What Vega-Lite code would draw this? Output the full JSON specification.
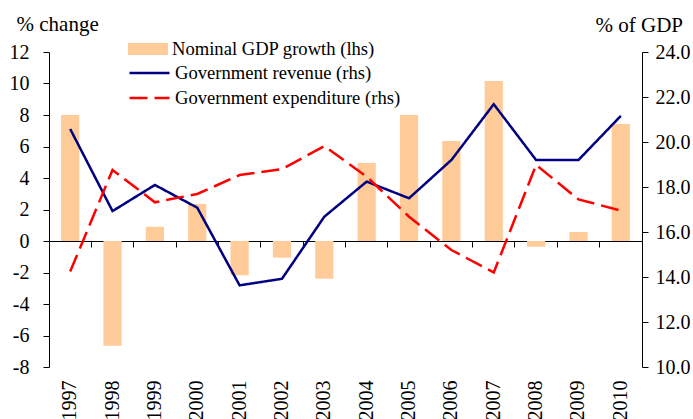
{
  "$schema": "https://vega.github.io/schema/vega-lite/v6.json",
  "width": 593,
  "height": 315,
  "autosize": {"type": "none"},
  "padding": {"left": 49, "top": 52, "right": 51, "bottom": 52},
  "config": {
    "font": "Liberation Serif",
    "view": {"stroke": null},
    "axis": {"grid": false, "domainColor": "#000000", "tickColor": "#000000", "labelColor": "#000000", "titleColor": "#000000", "labelFontSize": 20, "titleFontSize": 21, "titleFontWeight": "normal", "tickSize": 6, "domainWidth": 1, "tickWidth": 1},
    "legend": {"labelFontSize": 18.6, "labelColor": "#000000", "padding": 0, "labelLimit": 400}
  },
  "datasets": {
    "bars": [
      {"year": "1997", "series": "Nominal GDP growth (lhs)", "value": 8.0},
      {"year": "1998", "series": "Nominal GDP growth (lhs)", "value": -6.65},
      {"year": "1999", "series": "Nominal GDP growth (lhs)", "value": 0.9},
      {"year": "2000", "series": "Nominal GDP growth (lhs)", "value": 2.35},
      {"year": "2001", "series": "Nominal GDP growth (lhs)", "value": -2.18},
      {"year": "2002", "series": "Nominal GDP growth (lhs)", "value": -1.06},
      {"year": "2003", "series": "Nominal GDP growth (lhs)", "value": -2.39},
      {"year": "2004", "series": "Nominal GDP growth (lhs)", "value": 4.95},
      {"year": "2005", "series": "Nominal GDP growth (lhs)", "value": 8.0},
      {"year": "2006", "series": "Nominal GDP growth (lhs)", "value": 6.35},
      {"year": "2007", "series": "Nominal GDP growth (lhs)", "value": 10.16},
      {"year": "2008", "series": "Nominal GDP growth (lhs)", "value": -0.36},
      {"year": "2009", "series": "Nominal GDP growth (lhs)", "value": 0.57},
      {"year": "2010", "series": "Nominal GDP growth (lhs)", "value": 7.43}
    ],
    "lines": [
      {"year": "1997", "series": "Government revenue (rhs)", "value": 20.58},
      {"year": "1998", "series": "Government revenue (rhs)", "value": 16.93},
      {"year": "1999", "series": "Government revenue (rhs)", "value": 18.09},
      {"year": "2000", "series": "Government revenue (rhs)", "value": 17.08},
      {"year": "2001", "series": "Government revenue (rhs)", "value": 13.63},
      {"year": "2002", "series": "Government revenue (rhs)", "value": 13.92},
      {"year": "2003", "series": "Government revenue (rhs)", "value": 16.68},
      {"year": "2004", "series": "Government revenue (rhs)", "value": 18.24},
      {"year": "2005", "series": "Government revenue (rhs)", "value": 17.5},
      {"year": "2006", "series": "Government revenue (rhs)", "value": 19.2},
      {"year": "2007", "series": "Government revenue (rhs)", "value": 21.68},
      {"year": "2008", "series": "Government revenue (rhs)", "value": 19.2},
      {"year": "2009", "series": "Government revenue (rhs)", "value": 19.2},
      {"year": "2010", "series": "Government revenue (rhs)", "value": 21.16},
      {"year": "1997", "series": "Government expenditure (rhs)", "value": 14.24},
      {"year": "1998", "series": "Government expenditure (rhs)", "value": 18.76},
      {"year": "1999", "series": "Government expenditure (rhs)", "value": 17.32},
      {"year": "2000", "series": "Government expenditure (rhs)", "value": 17.69},
      {"year": "2001", "series": "Government expenditure (rhs)", "value": 18.53},
      {"year": "2002", "series": "Government expenditure (rhs)", "value": 18.79},
      {"year": "2003", "series": "Government expenditure (rhs)", "value": 19.82},
      {"year": "2004", "series": "Government expenditure (rhs)", "value": 18.46},
      {"year": "2005", "series": "Government expenditure (rhs)", "value": 16.68},
      {"year": "2006", "series": "Government expenditure (rhs)", "value": 15.2},
      {"year": "2007", "series": "Government expenditure (rhs)", "value": 14.2},
      {"year": "2008", "series": "Government expenditure (rhs)", "value": 18.98},
      {"year": "2009", "series": "Government expenditure (rhs)", "value": 17.45},
      {"year": "2010", "series": "Government expenditure (rhs)", "value": 16.95}
    ]
  },
  "layer": [
    {
      "data": {"name": "bars"},
      "mark": {"type": "bar", "width": {"band": 0.43}},
      "encoding": {
        "x": {"field": "year", "type": "ordinal", "scale": {"type": "band", "paddingInner": 0, "paddingOuter": 0},
              "axis": {"orient": "top", "title": null, "labels": false, "offset": -189, "bandPosition": 0, "tickSize": -6}},
        "y": {"field": "value", "type": "quantitative", "scale": {"domain": [-8, 12], "nice": false, "zero": false},
              "axis": {"orient": "left", "values": [-8, -6, -4, -2, 0, 2, 4, 6, 8, 10, 12], "labelExpr": "'' + datum.value", "labelPadding": 14,
                       "title": "% change", "titleAngle": 0, "titleAlign": "left", "titleBaseline": "alphabetic", "titleX": -33, "titleY": -22}},
        "fill": {"field": "series", "type": "nominal", "scale": {"range": ["#FFCC99"]},
                 "legend": {"title": null, "orient": "none", "legendX": 79, "legendY": -15.5, "symbolType": "M-1,-0.3H1V0.3H-1Z", "symbolSize": 1600, "symbolStrokeWidth": 0, "labelOffset": 4, "clipHeight": 25}}
      }
    },
    {
      "data": {"name": "lines"},
      "mark": {"type": "line", "strokeWidth": 2.5},
      "encoding": {
        "x": {"field": "year", "type": "ordinal", "scale": {"type": "band", "paddingInner": 0, "paddingOuter": 0},
              "axis": {"orient": "bottom", "title": null, "domain": false, "ticks": false, "labelAngle": -90, "labelPadding": 13}},
        "y": {"field": "value", "type": "quantitative", "scale": {"domain": [10, 24], "nice": false, "zero": false},
              "axis": {"orient": "right", "values": [10, 12, 14, 16, 18, 20, 22, 24], "format": ".1f", "labelPadding": 7,
                       "title": "% of GDP", "titleAngle": 0, "titleAlign": "left", "titleBaseline": "alphabetic", "titleX": -47, "titleY": -21}},
        "stroke": {"field": "series", "type": "nominal",
                   "scale": {"domain": ["Government revenue (rhs)", "Government expenditure (rhs)"], "range": ["#000080", "#FF0000"]},
                   "legend": {"title": null, "orient": "none", "legendX": 79, "legendY": 8.5, "symbolType": "stroke", "symbolSize": 1600, "symbolStrokeWidth": 2.5, "labelOffset": 4, "clipHeight": 25, "rowPadding": 0}},
        "strokeDash": {"field": "series", "type": "nominal",
                   "scale": {"domain": ["Government revenue (rhs)", "Government expenditure (rhs)"], "range": [[1, 0], [18, 7]]},
                   "legend": {"title": null, "orient": "none", "legendX": 79, "legendY": 8.5, "symbolType": "stroke", "symbolSize": 1600, "symbolStrokeWidth": 2.5, "labelOffset": 4, "clipHeight": 25, "rowPadding": 0}}
      }
    }
  ],
  "resolve": {"scale": {"y": "independent"}, "axis": {"x": "independent", "y": "independent"}}
}
